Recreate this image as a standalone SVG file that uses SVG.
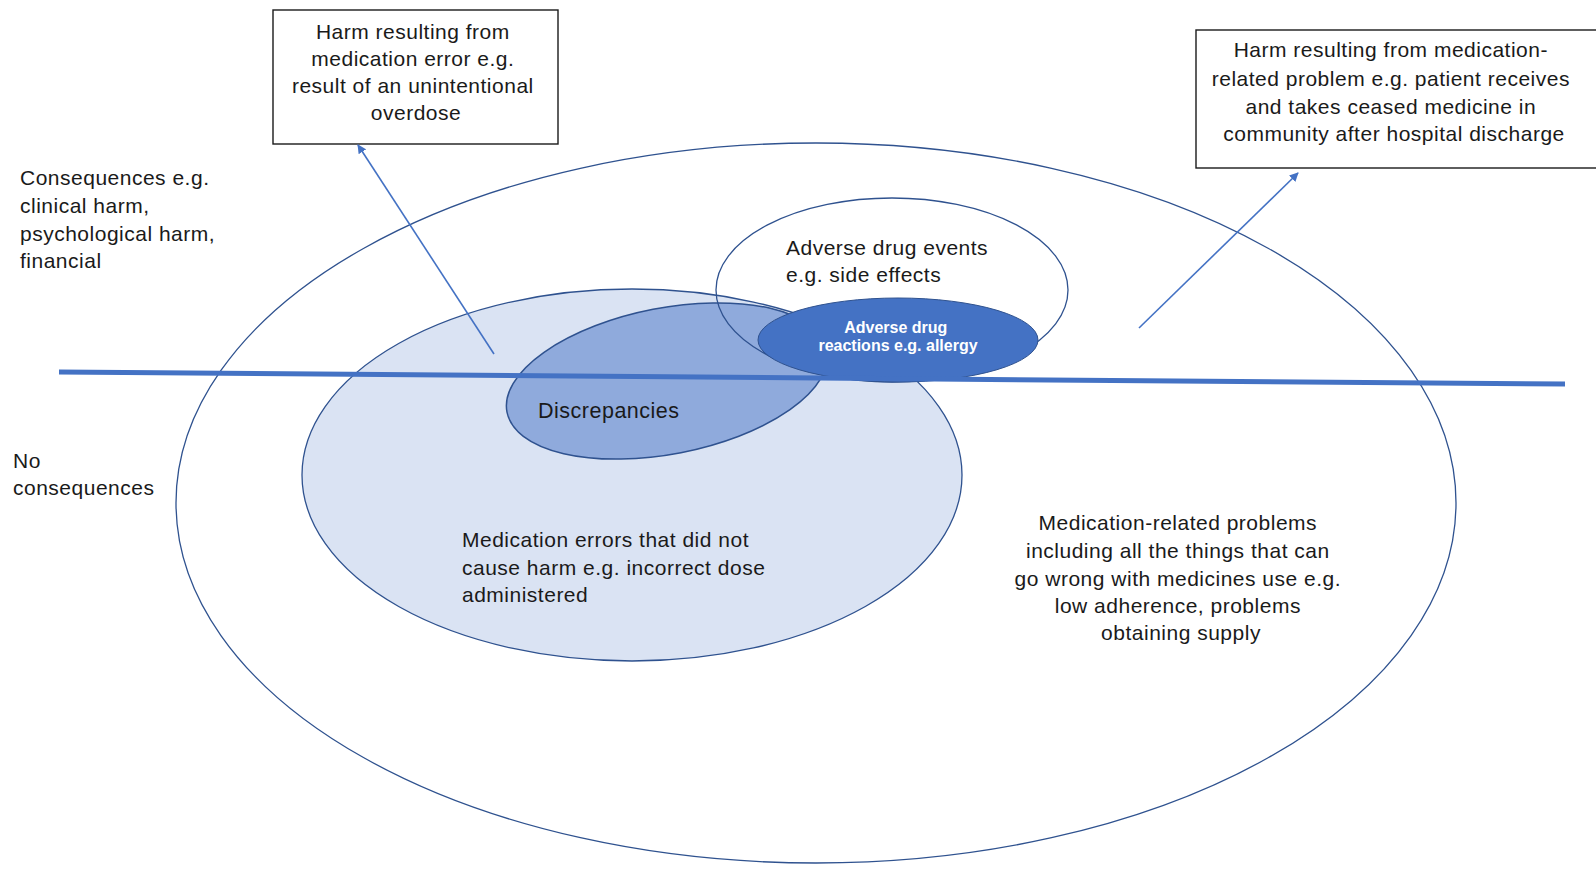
<svg xmlns="http://www.w3.org/2000/svg" width="1596" height="870" viewBox="0 0 1596 870">
  <defs>
    <marker id="arrow" viewBox="0 0 10 10" refX="9" refY="5" markerWidth="9" markerHeight="9" markerUnits="userSpaceOnUse" orient="auto">
      <path d="M0,0 L10,5 L0,10 z" fill="#4472C4"/>
    </marker>
    <style>
      .txt { font-family: "Liberation Sans", Arial, sans-serif; font-size: 21px; fill: #1a1a1a; letter-spacing: 0.5px; }
      .mid { text-anchor: middle; }
      .box { fill: #ffffff; stroke: #1a1a1a; stroke-width: 1.4; }
      .ring { stroke: #2F528F; stroke-width: 1.3; }
      .conn { stroke: #4472C4; stroke-width: 1.6; fill: none; }
      .adr { font-family: "Liberation Sans", Arial, sans-serif; font-size: 16px; font-weight: bold; fill: #ffffff; text-anchor: middle; }
    </style>
  </defs>

  <rect width="1596" height="870" fill="#ffffff"/>

  <!-- Medication-related problems: outer ring -->
  <g id="medication-related-problems">
    <ellipse cx="816" cy="503" rx="640" ry="360" fill="#ffffff" class="ring"/>
    <text class="txt mid">
      <tspan x="1181" y="530">Medication-related problems</tspan>
      <tspan x="1181" y="558">including all the things that can</tspan>
      <tspan x="1181" y="586">go wrong with medicines use e.g.</tspan>
      <tspan x="1181" y="613">low adherence, problems</tspan>
      <tspan x="1181" y="640">obtaining supply</tspan>
    </text>
  </g>

  <!-- Medication errors without harm -->
  <g id="medication-errors">
    <ellipse cx="632" cy="475" rx="330" ry="186" fill="#DAE3F3" class="ring"/>
    <text class="txt">
      <tspan x="462" y="547">Medication errors that did not</tspan>
      <tspan x="462" y="575">cause harm e.g. incorrect dose</tspan>
      <tspan x="462" y="602">administered</tspan>
    </text>
  </g>

  <!-- Discrepancies -->
  <g id="discrepancies">
    <ellipse cx="0" cy="0" rx="163" ry="73" transform="translate(667 381) rotate(-11)" fill="#8FAADC" stroke="#2F528F" stroke-width="1.5"/>
    <text class="txt" x="538" y="418" style="font-size:21.5px">Discrepancies</text>
  </g>

  <!-- Adverse drug events (outline only) -->
  <g id="adverse-drug-events">
    <ellipse cx="892" cy="290" rx="176" ry="92" fill="none" class="ring"/>
    <text class="txt">
      <tspan x="786" y="255">Adverse drug events</tspan>
      <tspan x="786" y="282">e.g. side effects</tspan>
    </text>
  </g>

  <!-- Adverse drug reactions -->
  <g id="adverse-drug-reactions">
    <ellipse cx="898" cy="340" rx="140" ry="42" fill="#4472C4" stroke="#2F528F" stroke-width="1"/>
    <text class="adr">
      <tspan x="898" y="333">Adverse drug</tspan>
      <tspan x="898" y="351">reactions e.g. allergy</tspan>
    </text>
  </g>

  <!-- Consequence threshold line -->
  <g id="threshold">
    <line x1="59" y1="372" x2="1565" y2="384" stroke="#4472C4" stroke-width="5"/>
  </g>

  <!-- Side labels -->
  <g id="label-consequences">
    <text class="txt">
      <tspan x="20" y="185">Consequences e.g.</tspan>
      <tspan x="20" y="213">clinical harm,</tspan>
      <tspan x="20" y="241">psychological harm,</tspan>
      <tspan x="20" y="268">financial</tspan>
    </text>
  </g>
  <g id="label-no-consequences">
    <text class="txt">
      <tspan x="13" y="468">No</tspan>
      <tspan x="13" y="495">consequences</tspan>
    </text>
  </g>

  <!-- Callout boxes -->
  <g id="harm-medication-error">
    <rect x="273" y="10" width="285" height="134" class="box"/>
    <text class="txt mid">
      <tspan x="416" y="39">Harm resulting from</tspan>
      <tspan x="416" y="66">medication error e.g.</tspan>
      <tspan x="416" y="93">result of an unintentional</tspan>
      <tspan x="416" y="120">overdose</tspan>
    </text>
  </g>
  <g id="harm-medication-problem">
    <rect x="1196" y="30" width="404" height="138" class="box"/>
    <text class="txt mid">
      <tspan x="1394" y="57">Harm resulting from medication-</tspan>
      <tspan x="1394" y="86">related problem e.g. patient receives</tspan>
      <tspan x="1394" y="114">and takes ceased medicine in</tspan>
      <tspan x="1394" y="141">community after hospital discharge</tspan>
    </text>
  </g>

  <!-- Connectors -->
  <g id="connectors">
    <line x1="494" y1="354" x2="358" y2="145" class="conn" marker-end="url(#arrow)"/>
    <line x1="1139" y1="328" x2="1298" y2="173" class="conn" marker-end="url(#arrow)"/>
  </g>
</svg>
